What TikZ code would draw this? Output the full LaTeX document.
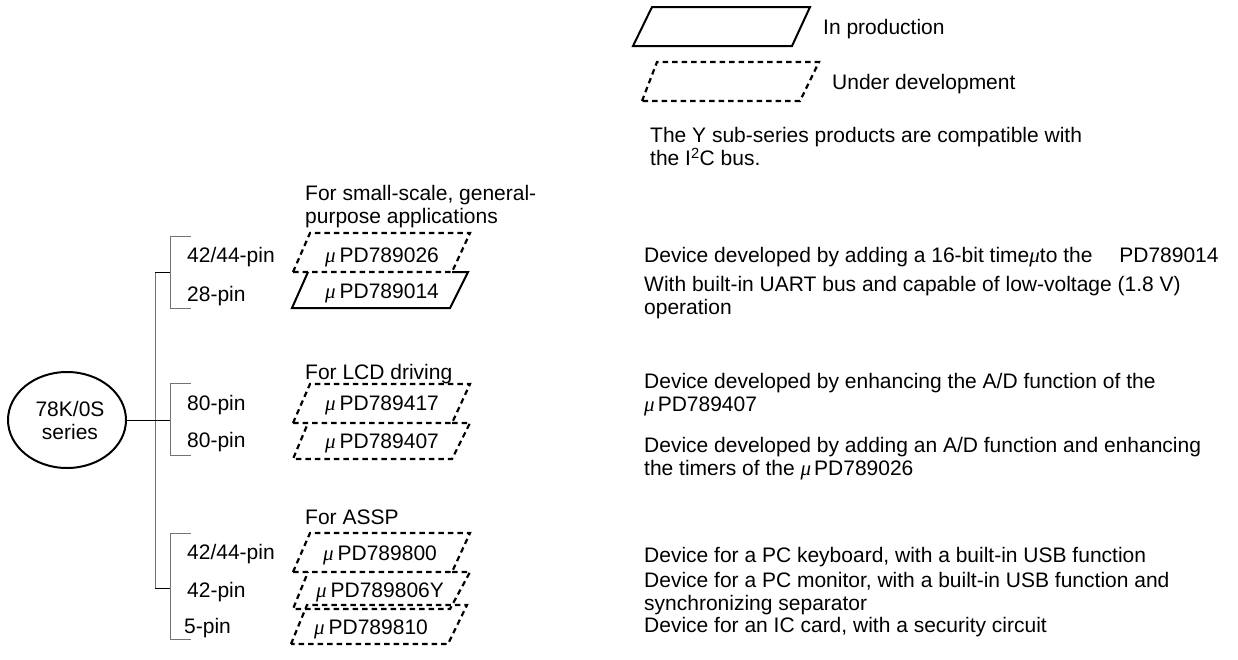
\documentclass[tikz,border=0pt]{standalone}
\usepackage{fontspec}
\usetikzlibrary{shapes.geometric}
\setmainfont{Liberation Sans}
\newfontfamily\muf{Liberation Serif}
\newcommand\mymu{{\muf\itshape μ}}
\newcommand\fs{\fontsize{21}{23}\selectfont}
\begin{document}
\begin{tikzpicture}[x=1pt,y=-1pt,
  lab/.style={anchor=west, inner sep=0pt, text height=15pt, text depth=0pt, font=\fs},
  mlab/.style={anchor=north west, inner sep=0pt, align=left, font=\fs},
  ctr/.style={anchor=center, inner sep=0pt, text height=15pt, text depth=0pt, font=\fs},
  prod/.style={line width=2pt, line join=miter},
  dev/.style={line width=2.2pt, dash pattern=on 5.5pt off 4pt},
  gline/.style={line width=1pt, draw=black!55},
  bline/.style={line width=1pt, draw=black}]
\path[use as bounding box, fill=white] (0,0) rectangle (1238,659);

% legend
\draw[prod] (633,46) -- (652,7) -- (810,7) -- (792,46) -- cycle;
\node[lab] (lp) at (823,27) {In production};
\draw[dev] (642,101) -- (657,62) -- (819,62) -- (800,101) -- cycle;
\node[lab] (ld) at (832,82) {Under development};
\node[mlab] (ly) at (650,127.5) {The Y sub-series products are compatible with\\the I\textsuperscript{2}C bus.};

% root
\node[draw, ellipse, line width=2pt, minimum width=118pt, minimum height=96pt, inner sep=0pt, align=center, font=\fs] (s) at (67,420) {\hspace{6pt}78K/0S\\\hspace{6pt}series};

% group headings
\node[mlab] (h1) at (305,185.5) {For small-scale, general-\\purpose applications};
\node[lab] (h2) at (305,372) {For LCD driving};
\node[lab] (h3) at (305,517) {For ASSP};

% brackets
\coordinate (j1) at (155,272);
\coordinate (j3) at (155,588);
\coordinate (b1t) at (191,236); \coordinate (b1u) at (170,236);
\coordinate (b1m) at (170,272);
\coordinate (b1l) at (170,308); \coordinate (b1b) at (191,308);
\coordinate (b2t) at (191,383); \coordinate (b2u) at (170,383);
\coordinate (b2m) at (170,420);
\coordinate (b2l) at (170,455); \coordinate (b2b) at (191,455);
\coordinate (b3t) at (191,533); \coordinate (b3u) at (170,533);
\coordinate (b3m) at (170,588);
\coordinate (b3l) at (170,639); \coordinate (b3b) at (191,639);
\draw[gline] (j1) -- (j3);
\draw[gline] (b1t) -- (b1u) -- (b1l) -- (b1b);
\draw[gline] (b2t) -- (b2u) -- (b2l) -- (b2b);
\draw[gline] (b3t) -- (b3u) -- (b3l) -- (b3b);
\draw[bline] (j1) -- (b1m);
\draw[bline] (j3) -- (b3m);
\draw[bline] (s.east) -- (b2m);

% pin labels
\node[lab] (p1) at (187,255) {42/44-pin};
\node[lab] (p2) at (187,294) {28-pin};
\node[lab] (p3) at (187,403) {80-pin};
\node[lab] (p4) at (187,440) {80-pin};
\node[lab] (p5) at (187,552) {42/44-pin};
\node[lab] (p6) at (187,590) {42-pin};
\node[lab] (p7) at (184,626) {5-pin};

% device boxes
\draw[dev] (293,272) -- (310,233) -- (470,233) -- (452,272) -- cycle;
\draw[prod] (452,272) -- (468,272) -- (450,308) -- (292,308) -- (308,272);
\draw[dev] (293,423) -- (310,384) -- (470,384) -- (452,423) -- cycle;
\draw[dev] (452,423) -- (470,423) -- (452,459) -- (293,459) -- (308,423);
\draw[dev] (293,572) -- (310,533) -- (470,533) -- (452,572) -- cycle;
\draw[dev] (452,572) -- (470,572) -- (450,609) -- (293,609) -- (308,572);
\draw[dev] (291,644) -- (307,605) -- (467,605) -- (448,644) -- cycle;

\node[ctr] (d1) at (382,255) {\mymu\hspace{4pt}PD789026};
\node[ctr] (d2) at (382,291) {\mymu\hspace{4pt}PD789014};
\node[ctr] (d3) at (382,403) {\mymu\hspace{4pt}PD789417};
\node[ctr] (d4) at (382,441) {\mymu\hspace{4pt}PD789407};
\node[ctr] (d5) at (380,553) {\mymu\hspace{4pt}PD789800};
\node[ctr] (d6) at (380,590) {\mymu\hspace{4pt}PD789806Y};
\node[ctr] (d7) at (371,627) {\mymu\hspace{4pt}PD789810};

% descriptions
\node[lab] (t1) at (644,255) {Device developed by adding a 16-bit time\mymu to the\hspace{21pt} PD789014};
\node[mlab] (t2) at (644,276) {With built-in UART bus and capable of low-voltage (1.8 V)\\operation};
\node[mlab] (t3) at (644,373.5) {Device developed by enhancing the A/D function of the\\\mymu\hspace{3pt}PD789407};
\node[mlab] (t4) at (644,437.5) {Device developed by adding an A/D function and enhancing\\the timers of the \mymu\hspace{3pt}PD789026};
\node[lab] (t5) at (644,555) {Device for a PC keyboard, with a built-in USB function};
\node[mlab] (t6) at (644,572.5) {Device for a PC monitor, with a built-in USB function and\\synchronizing separator};
\node[lab] (t7) at (644,625) {Device for an IC card, with a security circuit};
\end{tikzpicture}
\end{document}
